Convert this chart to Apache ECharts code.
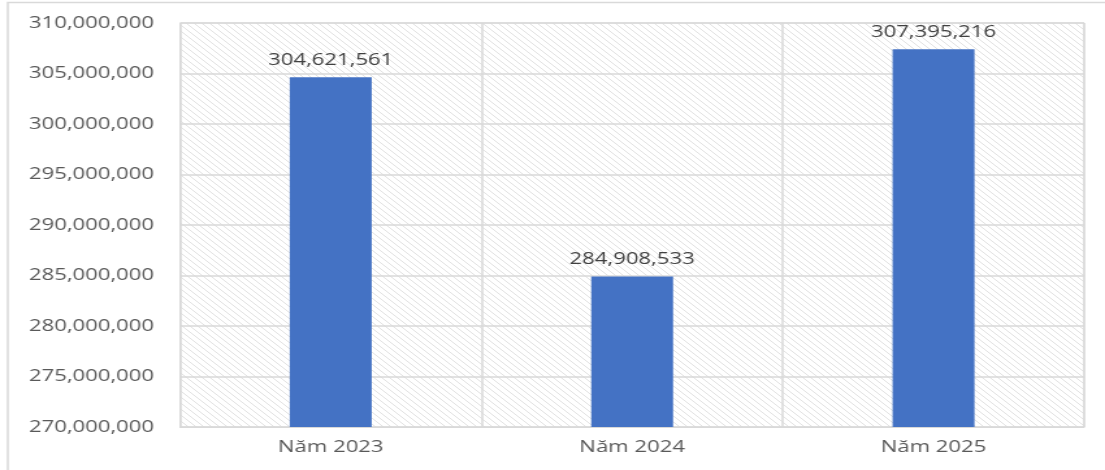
<!DOCTYPE html>
<html>
<head>
<meta charset="utf-8">
<script src="https://cdn.jsdelivr.net/npm/echarts@6/dist/echarts.min.js"></script>
<style>
  html, body { margin: 0; padding: 0; background: #fff; overflow: hidden; }
  /* the original picture is a horizontally stretched export, so stretch the same way */
  #chart { width: 850px; height: 470px; transform: scaleX(1.3); transform-origin: 0 0; }
</style>
</head>
<body>
<div id="chart"></div>
<script>
var categories = ['Năm 2023', 'Năm 2024', 'Năm 2025'];
var values = [304621561, 284908533, 307395216];

// diagonal hatch for the plot background
function makeHatch() {
    var s = 6;
    var c = document.createElement('canvas');
    c.width = s; c.height = s;
    var ctx = c.getContext('2d');
    ctx.fillStyle = '#ffffff';
    ctx.fillRect(0, 0, s, s);
    ctx.strokeStyle = '#e2e2e2';
    ctx.lineWidth = 1;
    for (var k = -1; k <= 1; k++) {
        ctx.beginPath();
        ctx.moveTo(0, k * s);
        ctx.lineTo(s, s + k * s);
        ctx.stroke();
    }
    return c;
}

function fmt(v) {
    return String(v).replace(/\B(?=(\d{3})+(?!\d))/g, ',');
}

var myChart = echarts.init(document.getElementById('chart'));

var option = {
    animation: false,
    textStyle: { fontFamily: 'Open Sans, Noto Sans, sans-serif' },
    graphic: [{
        type: 'rect',
        shape: { x: 6, y: 2.5, width: 900, height: 500 },
        style: { fill: 'none', stroke: '#d9d9d9', lineWidth: 1.5 },
        silent: true
    }],
    grid: {
        left: 138.5, right: 16, top: 23, bottom: 43,
        show: true,
        backgroundColor: { image: makeHatch(), repeat: 'repeat' },
        borderColor: '#d9d9d9',
        borderWidth: 1
    },
    xAxis: {
        type: 'category',
        data: categories,
        axisLine: { lineStyle: { color: '#d9d9d9', width: 1 } },
        axisTick: { show: false },
        splitLine: { show: true, lineStyle: { color: '#d9d9d9', width: 1.5 } },
        axisLabel: { color: '#595959', fontSize: 17, margin: 12 }
    },
    yAxis: {
        type: 'value',
        min: 270000000,
        max: 310000000,
        interval: 5000000,
        axisLine: { show: false },
        axisTick: { show: false },
        splitLine: { lineStyle: { color: '#d9d9d9', width: 1.5 } },
        axisLabel: { color: '#595959', fontSize: 17, margin: 20, formatter: fmt }
    },
    series: [{
        type: 'bar',
        data: values,
        barWidth: 63,
        itemStyle: { color: '#4472c4' },
        label: {
            show: true,
            position: 'top',
            distance: 9,
            color: '#404040',
            fontSize: 17,
            formatter: function (p) { return fmt(p.value); }
        }
    }]
};

myChart.setOption(option);
</script>
</body>
</html>
